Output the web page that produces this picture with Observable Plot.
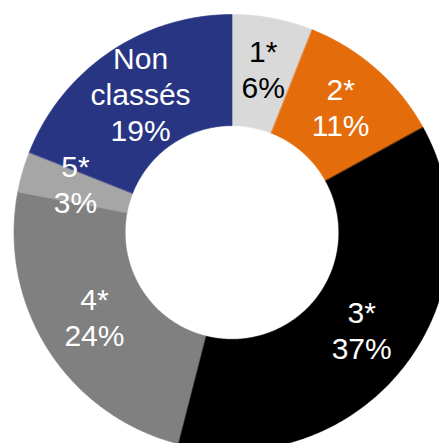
<!DOCTYPE html>
<html><head><meta charset="utf-8">
<script src="https://cdn.jsdelivr.net/npm/d3@7"></script>
<script src="https://cdn.jsdelivr.net/npm/@observablehq/plot@0.6"></script>
<style>html,body{margin:0;padding:0;background:#fff;overflow:hidden}</style>
</head><body><div id="chart"></div>
<script>
// Data
const categories = ["1*", "2*", "3*", "4*", "5*", "Non classés"];
const shares = [6, 11, 37, 24, 3, 19];
const labelNames = ["1*", "2*", "3*", "4*", "5*", "Non\nclassés"];
const sliceColors = ["#d9d9d9", "#e46c0a", "#000000", "#808080", "#a6a6a6", "#283583"];
const darkText = ["1*"];

// Layout
const W = 439, H = 443, cx = 232, cy = 232.5, R = 218, innerRatio = 0.49, labelRatio = 0.75;

const arcs = d3.pie().sort(null).value(d => d)(shares);

// ring segments sampled along the angle
const ringPts = [];
arcs.forEach((a, i) => {
  const n = Math.max(2, Math.ceil((a.endAngle - a.startAngle) / 0.01));
  for (let k = 0; k <= n; k++) {
    const t = a.startAngle + (a.endAngle - a.startAngle) * k / n;
    ringPts.push({
      key: categories[i],
      xi: innerRatio * Math.sin(t), yi: innerRatio * Math.cos(t),
      xo: Math.sin(t), yo: Math.cos(t)
    });
  }
});

const labelData = arcs.map((a, i) => {
  const t = (a.startAngle + a.endAngle) / 2;
  return {
    key: categories[i],
    text: labelNames[i] + "\n" + shares[i] + "%",
    x: labelRatio * Math.sin(t),
    y: labelRatio * Math.cos(t)
  };
});

const textOpts = {
  x: "x", y: "y", text: "text", dy: -4,
  fontSize: 30, lineHeight: 1.2, textAnchor: "middle", lineAnchor: "middle",
  fontFamily: "'Liberation Sans', Arial, sans-serif"
};

const chart = Plot.plot({
  width: W, height: H,
  margin: 0,
  x: {axis: null, domain: [-cx / R, (W - cx) / R], range: [0, W]},
  y: {axis: null, domain: [(cy - H) / R, cy / R], range: [H, 0]},
  color: {domain: categories, range: sliceColors},
  style: {background: "#fff"},
  marks: [
    Plot.area(ringPts, {x1: "xi", y1: "yi", x2: "xo", y2: "yo", z: "key", fill: "key", stroke: "key", strokeWidth: 0.6, curve: "linear", clip: true}),
    Plot.text(labelData.filter(d => !darkText.includes(d.key)), {...textOpts, fill: "#ffffff"}),
    Plot.text(labelData.filter(d => darkText.includes(d.key)), {...textOpts, fill: "#000000"})
  ]
});
document.getElementById("chart").appendChild(chart);
</script>
</body></html>
